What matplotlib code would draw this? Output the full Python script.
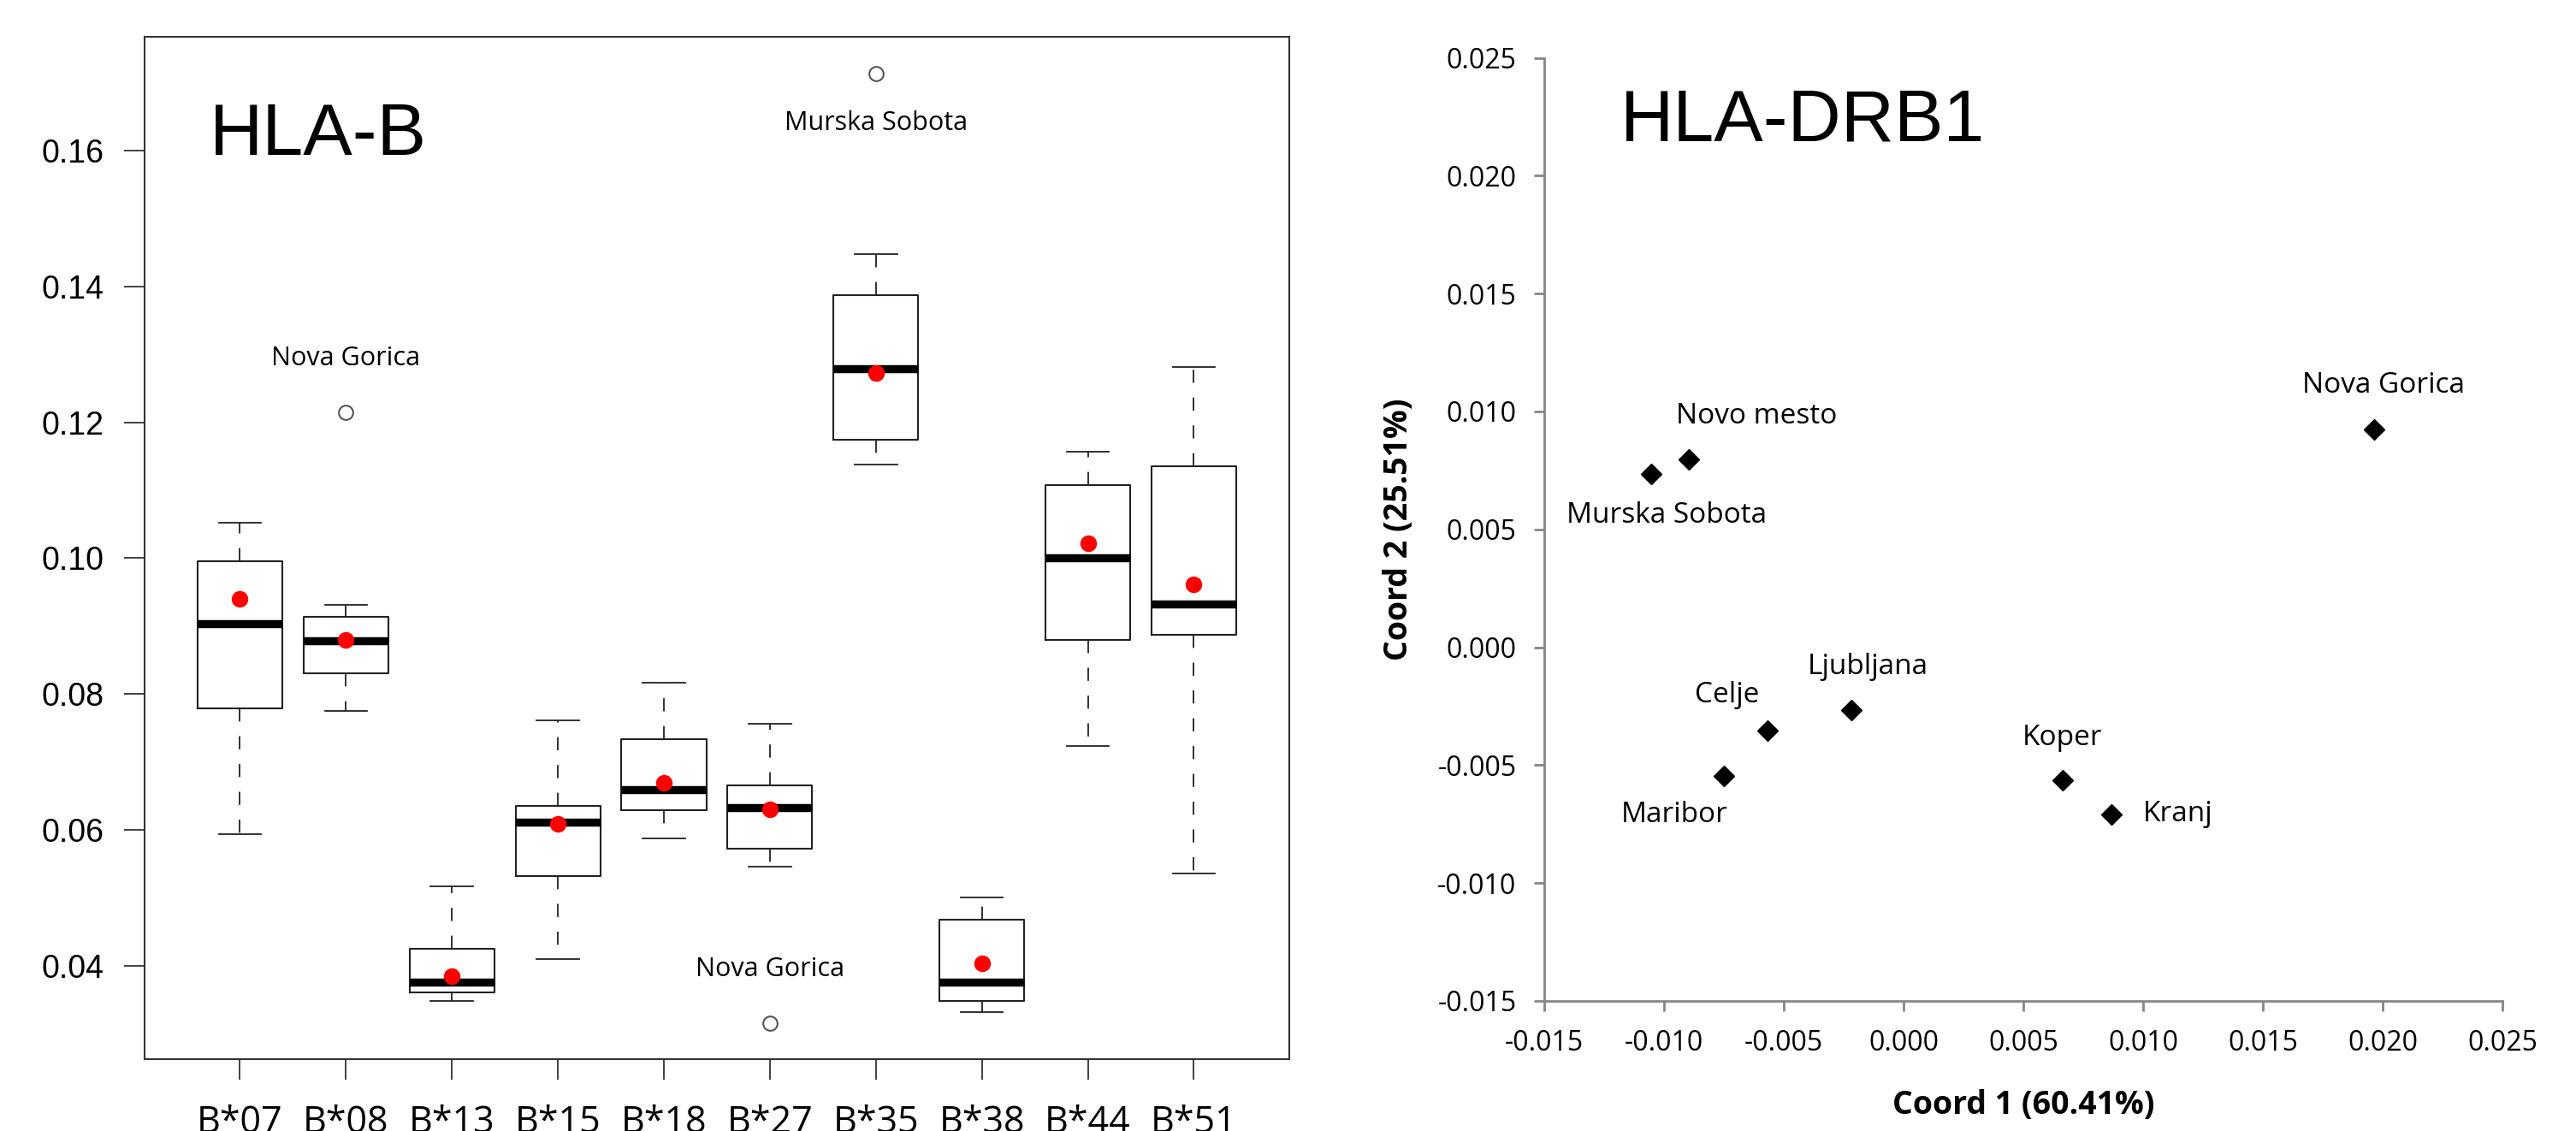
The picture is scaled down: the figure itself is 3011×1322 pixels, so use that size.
import matplotlib
matplotlib.use('Agg')
import matplotlib.pyplot as plt
from matplotlib.ticker import FormatStrFormatter, MultipleLocator

plt.rcParams['axes.unicode_minus'] = False

# HLA-B allele frequencies across regions (box stats)
alleles = ['B*07', 'B*08', 'B*13', 'B*15', 'B*18', 'B*27', 'B*35', 'B*38', 'B*44', 'B*51']
whis_lo = [0.0594, 0.0775, 0.0348, 0.0410, 0.0587, 0.0546, 0.1138, 0.0331, 0.0723, 0.0536]
q1 = [0.0779, 0.0831, 0.0360, 0.0532, 0.0629, 0.0572, 0.1175, 0.0348, 0.0879, 0.0887]
medians = [0.0904, 0.0878, 0.0376, 0.0611, 0.0659, 0.0632, 0.1279, 0.0375, 0.1001, 0.0933]
q3 = [0.0996, 0.0914, 0.0425, 0.0635, 0.0733, 0.0665, 0.1387, 0.0468, 0.1108, 0.1135]
whis_hi = [0.1052, 0.0931, 0.0517, 0.0761, 0.0817, 0.0756, 0.1448, 0.0500, 0.1157, 0.1281]
means = [0.0940, 0.0880, 0.0384, 0.0608, 0.0669, 0.0630, 0.1273, 0.0403, 0.1022, 0.0961]

# outliers: allele index, value, region name
out_idx = [1, 5, 6]
out_val = [0.1215, 0.0315, 0.1714]
out_name = ['Nova Gorica', 'Nova Gorica', 'Murska Sobota']

# HLA-DRB1 principal coordinates
regions = ['Murska Sobota', 'Novo mesto', 'Nova Gorica', 'Ljubljana', 'Celje',
           'Maribor', 'Koper', 'Kranj']
coord1 = [-0.01053, -0.00898, 0.01963, -0.00217, -0.00567, -0.00750, 0.00664, 0.00867]
coord2 = [0.00735, 0.00797, 0.00925, -0.00265, -0.00353, -0.00546, -0.00564, -0.00708]

ARIAL = 'Liberation Sans'
SANS = 'Open Sans'

fig = plt.figure(figsize=(30.11, 13.22), dpi=100, facecolor='white')

# ---------------- left: boxplots ----------------
ax1 = fig.add_axes([0.0561, 0.0635, 0.4444, 0.904])

stats = []
for i in range(len(alleles)):
    fl = [v for j, v in zip(out_idx, out_val) if j == i]
    stats.append(dict(label=alleles[i], whislo=whis_lo[i], q1=q1[i], med=medians[i],
                      q3=q3[i], whishi=whis_hi[i], mean=means[i], fliers=fl))

ax1.bxp(stats, positions=range(1, len(alleles) + 1), widths=0.8, capwidths=0.4,
        showmeans=True,
        boxprops=dict(color='#222222', linewidth=1.5),
        medianprops=dict(color='black', linewidth=6.8, solid_capstyle='butt'),
        whiskerprops=dict(color='#222222', linewidth=1.3, linestyle=(0, (8.5, 9.5))),
        capprops=dict(color='#222222', linewidth=1.3),
        meanprops=dict(marker='o', markerfacecolor='red', markeredgecolor='red',
                       markersize=13),
        flierprops=dict(marker='o', markerfacecolor='none', markeredgecolor='#555555',
                        markersize=12, markeredgewidth=1.5))

for j, v, name in zip(out_idx, out_val, out_name):
    dy = -42 if v > 0.16 else 45
    ax1.annotate(name, (j + 1, v), xytext=(0, dy), textcoords='offset points',
                 ha='center', va='center', fontsize=22, family=SANS)

ax1.set_xlim(0.1, 10.9)
ax1.set_ylim(0.0262, 0.1768)
ax1.yaxis.set_major_locator(MultipleLocator(0.02))
ax1.yaxis.set_major_formatter(FormatStrFormatter('%.2f'))
ax1.set_xticks(range(1, len(alleles) + 1))
ax1.set_xticklabels(alleles)
for s in ax1.spines.values():
    s.set_color('#333333')
    s.set_linewidth(1.5)
ax1.tick_params(axis='y', length=17, width=1.3, color='#333333', pad=17,
                labelsize=27)
ax1.tick_params(axis='x', length=17, width=1.3, color='#333333', pad=21,
                labelsize=31)
for t in ax1.get_yticklabels():
    t.set_family(ARIAL)
for t in ax1.get_xticklabels():
    t.set_family(SANS)
ax1.text(0.0568, 0.8845, 'HLA-B', transform=ax1.transAxes, fontsize=62,
         family=ARIAL, va='baseline', ha='left')

# ---------------- right: PCoA scatter ----------------
ax2 = fig.add_axes([0.5995, 0.115, 0.3719, 0.8339])
ax2.plot(coord1, coord2, linestyle='none', marker='D', markersize=12.5, color='black')

# label offsets in points
offsets = {'Murska Sobota': (13, -35), 'Novo mesto': (57, 36), 'Nova Gorica': (8, 37),
           'Ljubljana': (14, 36), 'Celje': (-34, 30), 'Maribor': (-42, -33),
           'Koper': (0, 36), 'Kranj': (27, 0)}
for name, x, y in zip(regions, coord1, coord2):
    ha = 'left' if name == 'Kranj' else 'center'
    ax2.annotate(name, (x, y), xytext=offsets[name], textcoords='offset points',
                 ha=ha, va='center', fontsize=24, family=SANS)

ax2.set_xlim(-0.015, 0.025)
ax2.set_ylim(-0.015, 0.025)
ax2.xaxis.set_major_locator(MultipleLocator(0.005))
ax2.yaxis.set_major_locator(MultipleLocator(0.005))
ax2.xaxis.set_major_formatter(FormatStrFormatter('%.3f'))
ax2.yaxis.set_major_formatter(FormatStrFormatter('%.3f'))
ax2.spines['top'].set_visible(False)
ax2.spines['right'].set_visible(False)
for s in ('left', 'bottom'):
    ax2.spines[s].set_color('#868686')
    ax2.spines[s].set_linewidth(2)
ax2.tick_params(length=8.5, width=2, color='#868686', labelsize=23, pad=15)
for t in ax2.get_xticklabels() + ax2.get_yticklabels():
    t.set_family(SANS)
ax2.set_xlabel('Coord 1 (60.41%)', fontsize=27, fontweight='bold', family=SANS)
ax2.set_ylabel('Coord 2 (25.51%)', fontsize=27, fontweight='bold', family=SANS)
ax2.xaxis.set_label_coords(0.5, -0.0934)
ax2.yaxis.set_label_coords(-0.1348, 0.5)
ax2.text(0.0795, 0.912, 'HLA-DRB1', transform=ax2.transAxes, fontsize=62,
         family=ARIAL, va='baseline', ha='left')

fig.savefig('out.png', dpi=100, facecolor='white')
